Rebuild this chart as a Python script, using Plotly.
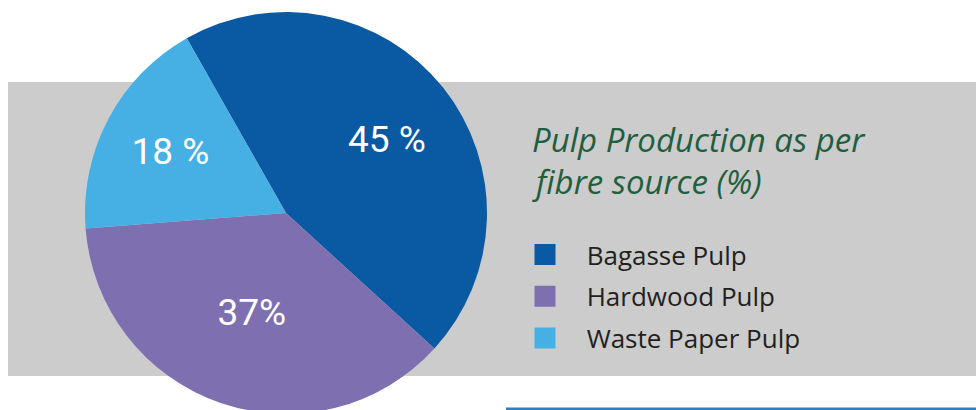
import plotly.graph_objects as go

categories = ["Bagasse Pulp", "Hardwood Pulp", "Waste Paper Pulp"]
shares = [45, 37, 18]
slice_labels = ["45 %", "37%", "18 %"]
colors = ["#0a59a3", "#7e70b0", "#46b0e4"]
title_lines = ["Pulp Production as per", "fibre source (%)"]

W, H = 976, 426
cx, cy, r = 286, 213, 201
pie_domain = dict(x=[(cx - r) / W, (cx + r) / W],
                  y=[(H - cy - r) / H, (H - cy + r) / H])
label_font = dict(family="Roboto", size=37, color="white")

fig = go.Figure()

# coloured slices with the two smaller labels
fig.add_trace(go.Pie(
    labels=categories,
    values=shares,
    text=["", slice_labels[1], slice_labels[2]],
    textinfo="text",
    textposition="inside",
    insidetextorientation="horizontal",
    textfont=label_font,
    marker=dict(colors=colors, line=dict(width=0)),
    sort=False,
    direction="clockwise",
    rotation=-29.6,
    showlegend=False,
    hoverinfo="label+percent",
    domain=pie_domain,
))

# transparent overlay carrying the largest slice label a little further out
fig.add_trace(go.Pie(
    labels=categories,
    values=shares,
    text=[slice_labels[0], "", ""],
    textinfo="text",
    textposition="inside",
    insidetextorientation="horizontal",
    textfont=label_font,
    marker=dict(colors=["rgba(0,0,0,0)"] * 3, line=dict(width=0)),
    hole=0.24,
    sort=False,
    direction="clockwise",
    rotation=-27,
    showlegend=False,
    hoverinfo="skip",
    domain=pie_domain,
))

pad = "\u2002\u2004"
for i, (name, col) in enumerate(zip(categories, colors)):
    fig.add_trace(go.Scatter(
        x=[None], y=[None], mode="markers", name=pad + name,
        legendgroup=f"g{i}",
        marker=dict(symbol="square", size=16, color=col,
                    line=dict(width=5, color=col)),
        showlegend=True,
    ))

title_font = dict(family="Open Sans", size=33, color="#1f5e3f", style="italic")

fig.update_layout(
    width=W, height=H,
    margin=dict(l=0, r=0, t=0, b=0),
    paper_bgcolor="white",
    plot_bgcolor="rgba(0,0,0,0)",
    xaxis=dict(visible=False),
    yaxis=dict(visible=False),
    legend=dict(
        x=525 / W, xanchor="left",
        y=1 - 231 / H, yanchor="top",
        bgcolor="rgba(0,0,0,0)",
        font=dict(family="Open Sans", size=26, color="#231f20"),
        tracegroupgap=5,
        itemclick=False,
    ),
    shapes=[
        dict(type="rect", xref="paper", yref="paper", layer="below",
             x0=8 / W, x1=1, y0=1 - 376 / H, y1=1 - 82 / H,
             fillcolor="#cbcccb", line=dict(width=0)),
        dict(type="rect", xref="paper", yref="paper", layer="below",
             x0=506 / W, x1=1, y0=1 - 410 / H, y1=1 - 407.5 / H,
             fillcolor="#2f7fc0", line=dict(width=0)),
    ],
    annotations=[
        dict(text=title_lines[0], xref="paper", yref="paper",
             x=530 / W, y=1 - 163.5 / H, xanchor="left", yanchor="bottom",
             showarrow=False, font=title_font),
        dict(text=title_lines[1], xref="paper", yref="paper",
             x=530 / W, y=1 - 205.5 / H, xanchor="left", yanchor="bottom",
             showarrow=False, font=title_font),
    ],
)

fig.write_html(
    "out.html",
    config={"displayModeBar": False},
    post_script="document.body.style.margin='0';document.body.style.overflow='hidden';",
)
